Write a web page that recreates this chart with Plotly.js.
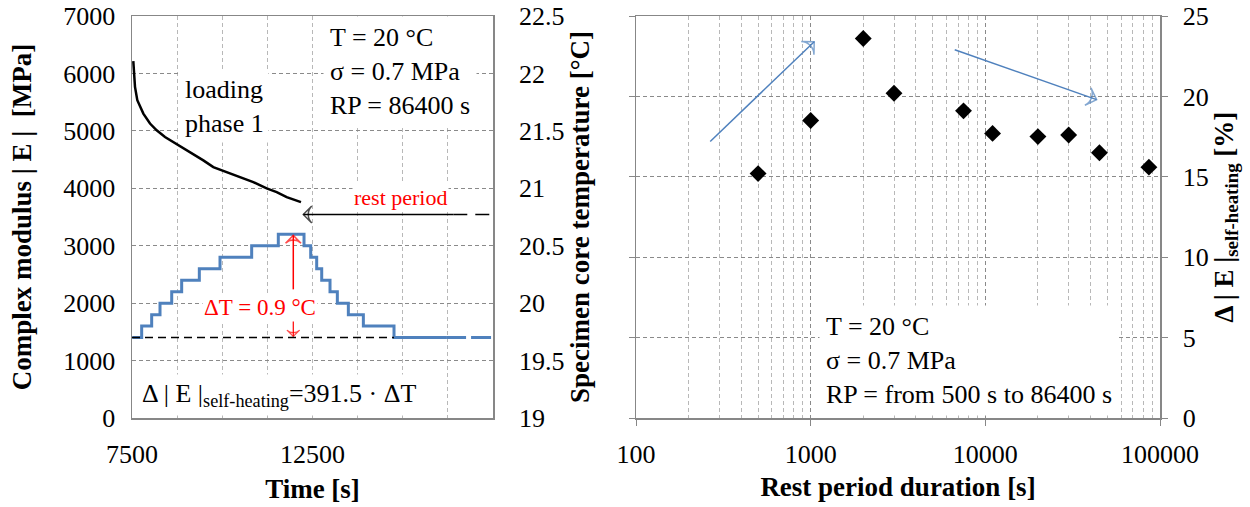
<!DOCTYPE html>
<html>
<head>
<meta charset="utf-8">
<script src="https://cdn.plot.ly/plotly-3.0.1.min.js"></script>
<style>html,body{margin:0;padding:0;background:#fff;}#chart{width:1250px;height:507px;}</style>
</head>
<body>
<div id="chart"></div>
<script>
// ---- Left panel: complex modulus during loading phase 1 ----
const modTime = [7536, 7583, 7647, 7814, 7999, 8183, 8414, 8645, 8876, 9153, 9476, 9752, 10123, 10492, 10860, 11230, 11508, 11785, 12062, 12181];
const modVal  = [6214, 5766, 5533, 5301, 5127, 5010, 4893, 4806, 4718, 4603, 4486, 4369, 4282, 4195, 4107, 3997, 3933, 3845, 3788, 3758];

// Specimen core temperature (step curve)
const tempTime = [7510, 7768, 8045, 8276, 8600, 8876, 9365, 9938, 10815, 11553, 12265, 12450, 12616, 12755, 12985, 13188, 13493, 13909, 14758, 16200];
const tempVal  = [19.7, 19.8, 19.9, 20.0, 20.1, 20.2, 20.3, 20.4, 20.5, 20.6, 20.5, 20.4, 20.3, 20.2, 20.1, 20.0, 19.9, 19.8, 19.7, 19.7];
const tempTailTime = [16200, 17500];
const tempTailVal  = [19.7, 19.7];

// ---- Right panel: self-heating part vs rest period duration ----
const restDur = [500, 1000, 2000, 3000, 7500, 11000, 20000, 30000, 45000, 86400];
const dEself  = [15.2, 18.5, 23.6, 20.2, 19.1, 17.7, 17.5, 17.6, 16.5, 15.6];

const leftTicks = [7500, 12500];
const rightTicks = [100, 1000, 10000, 100000];

const FONT = 'Liberation Serif';
const gridMajor = '#8a8a8a';
const gridMinor = '#b8b8b8';
const frame = '#878787';
const dashPat = '4px,3px';

function arrowTrace(xs, ys, xa, ya, color, width, size) {
  return {x: xs, y: ys, xaxis: xa, yaxis: ya, mode: 'lines+markers', cliponaxis: false,
    line: {color: color, width: width},
    marker: {symbol: ['circle', 'arrow-wide-open'], size: [0, size], angleref: 'previous',
             color: color, line: {color: color, width: width}},
    showlegend: false, hoverinfo: 'skip'};
}

const traces = [
  {x: modTime, y: modVal, xaxis: 'x', yaxis: 'y', mode: 'lines', line: {color: '#000', width: 2.5}, showlegend: false, hoverinfo: 'skip'},
  {x: tempTime, y: tempVal, xaxis: 'x', yaxis: 'y2', mode: 'lines', line: {color: '#4F81BD', width: 3, shape: 'hv'}, showlegend: false},
  {x: tempTailTime, y: tempTailVal, xaxis: 'x', yaxis: 'y2', mode: 'lines', line: {color: '#4F81BD', width: 3, dash: '20px,5px'}, showlegend: false},
  {x: restDur, y: dEself, xaxis: 'x2', yaxis: 'y3', mode: 'markers', marker: {symbol: 'diamond', size: 13, color: '#000'}, showlegend: false},
  // annotation arrows
  arrowTrace([16400, 12245], [3543, 3543], 'x', 'y', '#000', 1.5, 12),
  arrowTrace([11968, 11968], [20.12, 20.59], 'x', 'y2', '#ff0000', 1.5, 11),
  arrowTrace([11968, 11968], [19.86, 19.71], 'x', 'y2', '#ff0000', 1.2, 9),
  arrowTrace([266, 1048], [17.2, 23.4], 'x2', 'y3', '#4F81BD', 1.5, 13),
  arrowTrace([6680, 43350], [22.9, 19.8], 'x2', 'y3', '#4F81BD', 1.5, 13)
];

const layout = {
  width: 1250, height: 507,
  margin: {l: 0, r: 0, t: 16, b: 89},
  paper_bgcolor: '#fff', plot_bgcolor: '#fff',
  font: {family: FONT, size: 26, color: '#000'},
  showlegend: false,
  xaxis: {
    domain: [132/1250, 493/1250], range: [7500, 17500], anchor: 'y',
    tickmode: 'array', tickvals: leftTicks, ticktext: leftTicks.map(String), ticks: '',
    showgrid: true, gridcolor: gridMinor, griddash: dashPat, gridwidth: 1,
    minor: {tickmode: 'linear', tick0: 7500, dtick: 1250, showgrid: true, gridcolor: gridMinor, griddash: dashPat, ticks: ''},
    showline: true, mirror: true, linecolor: frame, linewidth: 1.5,
    zeroline: false, ticklabelstandoff: 12,
    tickfont: {family: FONT, size: 26},
    title: {text: 'Time [s]', font: {family: FONT, size: 27, weight: 'bold'}, standoff: 11}
  },
  yaxis: {
    domain: [0, 1], range: [0, 7000], dtick: 1000, anchor: 'x',
    ticks: '', showgrid: true, gridcolor: gridMajor, griddash: dashPat, gridwidth: 1,
    showline: true, mirror: true, linecolor: frame, linewidth: 1.5, zeroline: false,
    ticklabelstandoff: 10,
    title: {text: 'Complex modulus | E |  [MPa]', font: {family: FONT, size: 27, weight: 'bold'}, standoff: 24}
  },
  yaxis2: {
    overlaying: 'y', side: 'right', anchor: 'x', range: [19, 22.5], dtick: 0.5,
    ticks: '', showgrid: false, zeroline: false, showline: false,
    ticklabelstandoff: 25,
    title: {text: 'Specimen core temperature [°C]', font: {family: FONT, size: 27, weight: 'bold'}, standoff: 6}
  },
  xaxis2: {
    domain: [636/1250, 1160/1250], type: 'log', range: [2, 5], anchor: 'y3',
    tickmode: 'array', tickvals: rightTicks, ticktext: rightTicks.map(String),
    ticks: 'outside', ticklen: 6, tickcolor: frame,
    showgrid: true, gridcolor: gridMajor, griddash: dashPat, gridwidth: 1,
    minor: {dtick: 'D1', showgrid: true, gridcolor: gridMinor, griddash: dashPat, ticks: ''},
    showline: true, mirror: true, linecolor: frame, linewidth: 1.5, zeroline: false,
    ticklabelstandoff: 6,
    title: {text: 'Rest period duration [s]', font: {family: FONT, size: 27, weight: 'bold'}, standoff: 9}
  },
  yaxis3: {
    domain: [0, 1], range: [0, 25], dtick: 5, anchor: 'x2', side: 'right',
    ticks: 'outside', ticklen: 6, tickcolor: frame,
    showgrid: true, gridcolor: gridMajor, griddash: dashPat, gridwidth: 1,
    showline: true, mirror: 'allticks', linecolor: frame, linewidth: 1.5, zeroline: false,
    ticklabelstandoff: 10,
    title: {text: 'Δ | E |<sub>self-heating</sub> [%]', font: {family: FONT, size: 27, weight: 'bold'}, standoff: 2}
  },
  shapes: [
    // baseline of temperature (dashed black)
    {type: 'line', xref: 'x', yref: 'y2', x0: 7500, x1: 14758, y0: 19.7, y1: 19.7, line: {color: '#000', width: 1.5, dash: '8px,5px'}},
    // dashed tail of rest period arrow
    {type: 'line', xref: 'x', yref: 'y', x0: 16400, x1: 17500, y0: 3543, y1: 3543, line: {color: '#000', width: 1.5, dash: '14px,8px'}}
  ],
  annotations: [
    {xref: 'x', yref: 'y', x: 12800, y: 7000, xanchor: 'left', yanchor: 'top', align: 'left',
     text: 'T = 20 °C<br>σ = 0.7 MPa<br>RP = 86400 s', showarrow: false, bgcolor: '#fff', borderpad: 6,
     font: {family: FONT, size: 26, color: '#000'}},
    {xref: 'x', yref: 'y', x: 8830, y: 5420, xanchor: 'left', yanchor: 'middle', align: 'left',
     text: 'loading<br>phase 1', showarrow: false, bgcolor: '#fff', borderpad: 4,
     font: {family: FONT, size: 26, color: '#000'}},
    {xref: 'x', yref: 'y', x: 7640, y: 30, xanchor: 'left', yanchor: 'bottom', align: 'left',
     text: 'Δ | E |<sub>self-heating</sub>=391.5 · ΔT', showarrow: false, bgcolor: '#fff', borderpad: 4,
     font: {family: FONT, size: 26, color: '#000'}},
    {xref: 'x', yref: 'y', x: 14950, y: 3845, text: 'rest period', showarrow: false, bgcolor: '#fff', borderpad: 1,
     font: {family: FONT, size: 22, color: '#ff0000'}},
    {xref: 'x', yref: 'y2', x: 11046, y: 19.962, text: 'ΔT = 0.9 °C', showarrow: false, bgcolor: '#fff', borderpad: 1,
     font: {family: FONT, size: 23, color: '#ff0000'}},
    {xref: 'x2', yref: 'y3', x: Math.log10(1120), y: 3.6, xanchor: 'left', yanchor: 'middle', align: 'left',
     text: 'T = 20 °C<br>σ = 0.7 MPa<br>RP = from 500 s to 86400 s', showarrow: false, bgcolor: '#fff', borderpad: 6,
     font: {family: FONT, size: 26, color: '#000'}}
  ]
};

Plotly.newPlot('chart', traces, layout, {staticPlot: true, displayModeBar: false});
</script>
</body>
</html>
